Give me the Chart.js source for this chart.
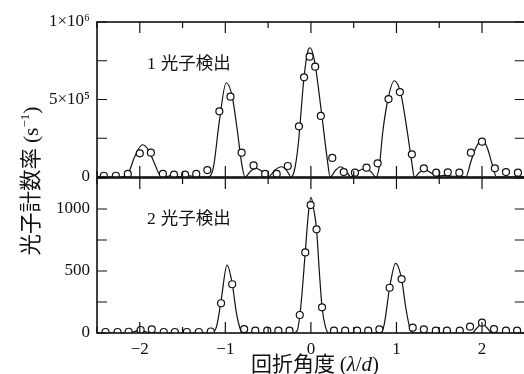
<!DOCTYPE html>
<html>
<head>
<meta charset="utf-8">
<script src="https://cdn.jsdelivr.net/npm/chart.js@4.4.0/dist/chart.umd.min.js"></script>
<style>
  html, body { margin: 0; padding: 0; background: #fff; overflow: hidden; }
  #wrap { position: relative; width: 524px; height: 374px; overflow: hidden; }
  canvas { position: absolute; left: 0; }
  #top { top: 0; }
  #bottom { top: 168px; }
  .panel { position: absolute; left: 147px; font-size: 17.5px; line-height: 20px; color: #111;
           font-family: "Noto Sans CJK JP", sans-serif; white-space: nowrap; }
  .panel b { font-family: "Liberation Serif", serif; font-weight: normal; margin-right: 5px; }
  #ytitle { position: absolute; left: -81px; top: 168px; width: 220px; height: 26px; line-height: 26px;
            text-align: center; transform: rotate(-90deg); font-size: 21.5px; color: #111; white-space: nowrap;
            font-family: "Noto Sans CJK JP", sans-serif; }
  #xtitle { position: absolute; left: 205px; top: 350px; width: 220px; line-height: 24px; text-align: center;
            font-size: 21px; color: #111; white-space: nowrap; font-family: "Noto Sans CJK JP", sans-serif; }
  .ser { font-family: "Liberation Serif", serif; }
  sup { font-size: 13px; vertical-align: 9px; line-height: 0; }
</style>
</head>
<body>
<div id="wrap">
  <canvas id="top" width="530" height="190"></canvas>
  <canvas id="bottom" width="530" height="206"></canvas>
  <div class="panel" style="top:52px"><b>1</b>光子検出</div>
  <div class="panel" style="top:207px"><b>2</b>光子検出</div>
  <div id="ytitle">光子計数率 <span class="ser">(s<sup>−1</sup>)</span></div>
  <div id="xtitle">回折角度 <span class="ser">(<i>λ</i>/<i>d</i>)</span></div>
</div>
<script>
// x axis (diffraction angle in λ/d)
const xTickVals = [-2.5, -2, -1.5, -1, -0.5, 0, 0.5, 1, 1.5, 2, 2.5];
const xLabelVals = [-2, -1, 0, 1, 2];
const xLabels = ['−2', '−1', '0', '1', '2'];

// 1-photon detection (counts/s)
const oneTickVals = [0, 250000, 500000, 750000, 1000000];
const oneLabelVals = [0, 500000, 1000000];
const oneLabels = ['0', '5×10⁵', '1×10⁶'];
const onePhotonX = [-2.42, -2.28, -2.14, -2.00, -1.87, -1.73, -1.60, -1.47, -1.34, -1.21, -1.07, -0.94, -0.81, -0.67, -0.535, -0.40, -0.27, -0.14, -0.08, -0.015, 0.05, 0.116, 0.25, 0.384, 0.515, 0.65, 0.78, 0.907, 1.04, 1.18, 1.32, 1.465, 1.60, 1.735, 1.87, 2.00, 2.15, 2.28, 2.42];
const onePhotonY = [8000, 8000, 20000, 153000, 157000, 20000, 15000, 15000, 20000, 45000, 424000, 518000, 157000, 75000, 20000, 20000, 71000, 327000, 643000, 776000, 712000, 394000, 123000, 32000, 28000, 60000, 88000, 503000, 548000, 146000, 56000, 28000, 30000, 28000, 157000, 228000, 56000, 32000, 28000];
const oneFitX = [-2.5, -2.22, -2.13, -2.06, -1.97, -1.9, -1.83, -1.77, -1.72, -1.62, -1.52, -1.42, -1.32, -1.2, -1.14, -1.07, -0.99, -0.92, -0.86, -0.81, -0.77, -0.70, -0.64, -0.57, -0.50, -0.42, -0.345, -0.28, -0.23, -0.19, -0.15, -0.08, -0.035, -0.01, 0.04, 0.12, 0.19, 0.225, 0.29, 0.35, 0.41, 0.47, 0.56, 0.64, 0.70, 0.76, 0.80, 0.84, 0.90, 0.973, 1.05, 1.13, 1.18, 1.21, 1.27, 1.34, 1.41, 1.47, 1.56, 1.66, 1.75, 1.81, 1.87, 1.93, 2.0, 2.06, 2.12, 2.17, 2.5];
const oneFitY = [0, 0, 30000, 130000, 208000, 175000, 90000, 15000, 0, 10000, 0, 8000, 0, 0, 60000, 360000, 608000, 520000, 300000, 90000, 0, 40000, 56000, 35000, 0, 45000, 66000, 40000, 0, 50000, 200000, 645000, 815000, 834000, 755000, 432000, 120000, 0, 45000, 66000, 40000, 0, 40000, 56000, 35000, 0, 70000, 290000, 500000, 621000, 540000, 280000, 90000, 0, 30000, 45000, 25000, 5000, 10000, 5000, 5000, 0, 100000, 190000, 239000, 190000, 80000, 0, 0];

// 2-photon detection (counts/s)
const twoTickVals = [0, 250, 500, 750, 1000, 1250];
const twoLabelVals = [0, 500, 1000];
const twoLabels = ['0', '500', '1000'];
const twoPhotonX = [-2.40, -2.26, -2.13, -1.99, -1.86, -1.72, -1.59, -1.45, -1.31, -1.17, -1.05, -0.92, -0.78, -0.65, -0.51, -0.38, -0.25, -0.13, -0.066, -0.003, 0.066, 0.13, 0.27, 0.40, 0.54, 0.67, 0.80, 0.92, 1.06, 1.19, 1.32, 1.46, 1.59, 1.74, 1.86, 2.00, 2.14, 2.28, 2.41];
const twoPhotonY = [8, 8, 10, 24, 30, 8, 8, 8, 8, 12, 240, 393, 32, 19, 19, 19, 19, 145, 650, 1032, 836, 207, 19, 19, 19, 19, 30, 365, 435, 43, 30, 19, 19, 19, 51, 83, 32, 19, 19];
const twoFitX = [-2.5, -2.12, -2.06, -2.0, -1.94, -1.88, -1.16, -1.1, -1.05, -0.98, -0.92, -0.87, -0.82, -0.79, -0.2, -0.16, -0.12, -0.066, -0.03, 0.0, 0.035, 0.066, 0.1, 0.13, 0.17, 0.21, 0.82, 0.86, 0.92, 0.99, 1.06, 1.11, 1.16, 1.2, 1.88, 1.94, 2.0, 2.06, 2.12, 2.5];
const twoFitY = [0, 0, 12, 25, 12, 0, 0, 60, 260, 548, 400, 160, 20, 0, 0, 20, 200, 650, 960, 1094, 990, 836, 480, 210, 50, 0, 0, 80, 365, 562, 435, 200, 30, 0, 0, 40, 80, 40, 0, 0];

const ink = '#111';
Chart.defaults.font.family = '"Liberation Serif", serif';
Chart.defaults.font.size = 17;
Chart.defaults.color = ink;

const toXY = (xs, ys) => xs.map((x, i) => ({ x: x, y: ys[i] }));

// frame with inward ticks on all four sides
const frame = {
  id: 'frame',
  afterDraw(chart, args, opts) {
    const { ctx, chartArea: a, scales: { x, y } } = chart;
    ctx.save();
    ctx.strokeStyle = ink;
    ctx.lineWidth = 1.2;
    ctx.beginPath();
    xTickVals.forEach(v => {
      const px = x.getPixelForValue(v);
      const len = Number.isInteger(v) ? 11 : 6;
      ctx.moveTo(px, a.top); ctx.lineTo(px, a.top + len);
      ctx.moveTo(px, a.bottom); ctx.lineTo(px, a.bottom - len);
    });
    opts.yTicks.forEach(v => {
      const py = y.getPixelForValue(v);
      ctx.moveTo(a.left, py); ctx.lineTo(a.left + 10, py);
      ctx.moveTo(a.right, py); ctx.lineTo(a.right - 10, py);
    });
    ctx.stroke();
    ctx.lineWidth = 1.6;
    ctx.strokeRect(a.left, a.top, a.right - a.left, a.bottom - a.top);
    ctx.restore();
  }
};

function makePanel(id, pts, fit, yMax, tickVals, labelVals, labels, pad, showX) {
  return new Chart(document.getElementById(id), {
    type: 'line',
    data: {
      datasets: [{
        data: pts,
        showLine: false,
        pointRadius: 3.5,
        pointBorderWidth: 1.2,
        pointBackgroundColor: '#fff',
        pointBorderColor: ink
      }, {
        data: fit,
        borderColor: ink,
        borderWidth: 1.2,
        pointRadius: 0,
        cubicInterpolationMode: 'monotone'
      }]
    },
    plugins: [frame],
    options: {
      responsive: false,
      animation: false,
      layout: { padding: pad },
      plugins: {
        legend: { display: false },
        tooltip: { enabled: false },
        frame: { yTicks: tickVals }
      },
      scales: {
        x: {
          type: 'linear',
          min: -2.5,
          max: 2.5,
          display: showX,
          grid: { display: false, drawTicks: false },
          border: { display: false },
          afterBuildTicks: s => { s.ticks = xLabelVals.map(v => ({ value: v })); },
          afterFit: s => { s.height = showX ? 41 : 0; s.paddingLeft = 0; s.paddingRight = 0; },
          ticks: {
            padding: 6,
            maxRotation: 0,
            callback: v => xLabels[xLabelVals.indexOf(v)]
          }
        },
        y: {
          min: 0,
          max: yMax,
          grid: { display: false, drawTicks: false },
          border: { display: false },
          afterBuildTicks: s => { s.ticks = labelVals.map(v => ({ value: v })); },
          afterFit: s => { s.width = 97; s.paddingTop = 0; s.paddingBottom = 0; },
          ticks: {
            padding: 7,
            callback: v => labels[labelVals.indexOf(v)]
          }
        }
      }
    }
  });
}

makePanel('top', toXY(onePhotonX, onePhotonY), toXY(oneFitX, oneFitY), 1000000,
  oneTickVals, oneLabelVals, oneLabels, { left: 0, top: 22, right: 3, bottom: 13 }, false);
makePanel('bottom', toXY(twoPhotonX, twoPhotonY), toXY(twoFitX, twoFitY), 1250,
  twoTickVals, twoLabelVals, twoLabels, { left: 0, top: 10, right: 3, bottom: 0 }, true);
</script>
</body>
</html>
